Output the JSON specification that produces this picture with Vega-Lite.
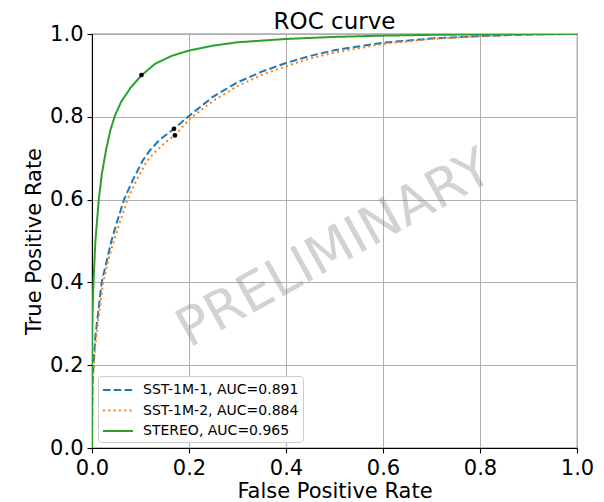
{
  "$schema": "https://vega.github.io/schema/vega-lite/v6.json",
  "width": 485,
  "height": 414,
  "autosize": {"type": "none"},
  "padding": {"left": 92, "top": 34, "right": 27, "bottom": 54},
  "title": {"text": "ROC curve", "fontSize": 23, "font": "DejaVu Sans", "fontWeight": "normal", "color": "black", "offset": -11, "anchor": "middle"},
  "config": {
    "view": {"stroke": "black", "strokeWidth": 1.1},
    "font": "DejaVu Sans",
    "axis": {
      "labelFontSize": 21, "titleFontSize": 21, "titleFontWeight": "normal",
      "labelColor": "black", "titleColor": "black", "domainColor": "black", "domainWidth": 1.1,
      "tickColor": "black", "tickSize": 5, "tickWidth": 1.1, "labelPadding": 4, "labelFlush": false,
      "gridColor": "#b0b0b0", "gridWidth": 1, "labelFont": "DejaVu Sans", "titleFont": "DejaVu Sans"
    },
    "legend": {
      "orient": "bottom-left", "offset": 6, "fillColor": "white", "strokeColor": "#cccccc",
      "cornerRadius": 3, "padding": 4, "labelFontSize": 14, "labelFont": "DejaVu Sans", "labelColor": "black",
      "symbolType": "M-1,0H2.333", "symbolSize": 324, "symbolStrokeWidth": 2, "labelOffset": 21, "rowPadding": 3.5
    }
  },
  "layer": [
    {
      "data": {"values": [
        {"s": "SST-1M-1, AUC=0.891", "x": 0, "y": 0},
        {"s": "SST-1M-1, AUC=0.891", "x": 0.0005, "y": 0.1},
        {"s": "SST-1M-1, AUC=0.891", "x": 0.001, "y": 0.15},
        {"s": "SST-1M-1, AUC=0.891", "x": 0.003, "y": 0.2},
        {"s": "SST-1M-1, AUC=0.891", "x": 0.007, "y": 0.27},
        {"s": "SST-1M-1, AUC=0.891", "x": 0.012, "y": 0.32},
        {"s": "SST-1M-1, AUC=0.891", "x": 0.02, "y": 0.4},
        {"s": "SST-1M-1, AUC=0.891", "x": 0.03, "y": 0.45},
        {"s": "SST-1M-1, AUC=0.891", "x": 0.04, "y": 0.5},
        {"s": "SST-1M-1, AUC=0.891", "x": 0.05, "y": 0.54},
        {"s": "SST-1M-1, AUC=0.891", "x": 0.066, "y": 0.6},
        {"s": "SST-1M-1, AUC=0.891", "x": 0.084, "y": 0.647},
        {"s": "SST-1M-1, AUC=0.891", "x": 0.105, "y": 0.695},
        {"s": "SST-1M-1, AUC=0.891", "x": 0.12, "y": 0.72},
        {"s": "SST-1M-1, AUC=0.891", "x": 0.14, "y": 0.745},
        {"s": "SST-1M-1, AUC=0.891", "x": 0.17, "y": 0.772},
        {"s": "SST-1M-1, AUC=0.891", "x": 0.2, "y": 0.802},
        {"s": "SST-1M-1, AUC=0.891", "x": 0.25, "y": 0.849},
        {"s": "SST-1M-1, AUC=0.891", "x": 0.3, "y": 0.883},
        {"s": "SST-1M-1, AUC=0.891", "x": 0.35, "y": 0.909},
        {"s": "SST-1M-1, AUC=0.891", "x": 0.4, "y": 0.93},
        {"s": "SST-1M-1, AUC=0.891", "x": 0.45, "y": 0.947},
        {"s": "SST-1M-1, AUC=0.891", "x": 0.5, "y": 0.961},
        {"s": "SST-1M-1, AUC=0.891", "x": 0.6, "y": 0.979},
        {"s": "SST-1M-1, AUC=0.891", "x": 0.7, "y": 0.989},
        {"s": "SST-1M-1, AUC=0.891", "x": 0.8, "y": 0.995},
        {"s": "SST-1M-1, AUC=0.891", "x": 0.9, "y": 0.999},
        {"s": "SST-1M-1, AUC=0.891", "x": 1.0, "y": 1.0},
        {"s": "SST-1M-2, AUC=0.884", "x": 0, "y": 0},
        {"s": "SST-1M-2, AUC=0.884", "x": 0.0005, "y": 0.09},
        {"s": "SST-1M-2, AUC=0.884", "x": 0.001, "y": 0.13},
        {"s": "SST-1M-2, AUC=0.884", "x": 0.003, "y": 0.19},
        {"s": "SST-1M-2, AUC=0.884", "x": 0.007, "y": 0.25},
        {"s": "SST-1M-2, AUC=0.884", "x": 0.013, "y": 0.31},
        {"s": "SST-1M-2, AUC=0.884", "x": 0.023, "y": 0.4},
        {"s": "SST-1M-2, AUC=0.884", "x": 0.033, "y": 0.45},
        {"s": "SST-1M-2, AUC=0.884", "x": 0.045, "y": 0.5},
        {"s": "SST-1M-2, AUC=0.884", "x": 0.056, "y": 0.54},
        {"s": "SST-1M-2, AUC=0.884", "x": 0.073, "y": 0.6},
        {"s": "SST-1M-2, AUC=0.884", "x": 0.09, "y": 0.643},
        {"s": "SST-1M-2, AUC=0.884", "x": 0.113, "y": 0.693},
        {"s": "SST-1M-2, AUC=0.884", "x": 0.13, "y": 0.715},
        {"s": "SST-1M-2, AUC=0.884", "x": 0.15, "y": 0.737},
        {"s": "SST-1M-2, AUC=0.884", "x": 0.172, "y": 0.757},
        {"s": "SST-1M-2, AUC=0.884", "x": 0.2, "y": 0.793},
        {"s": "SST-1M-2, AUC=0.884", "x": 0.25, "y": 0.839},
        {"s": "SST-1M-2, AUC=0.884", "x": 0.3, "y": 0.874},
        {"s": "SST-1M-2, AUC=0.884", "x": 0.35, "y": 0.901},
        {"s": "SST-1M-2, AUC=0.884", "x": 0.4, "y": 0.922},
        {"s": "SST-1M-2, AUC=0.884", "x": 0.45, "y": 0.941},
        {"s": "SST-1M-2, AUC=0.884", "x": 0.5, "y": 0.955},
        {"s": "SST-1M-2, AUC=0.884", "x": 0.6, "y": 0.976},
        {"s": "SST-1M-2, AUC=0.884", "x": 0.7, "y": 0.988},
        {"s": "SST-1M-2, AUC=0.884", "x": 0.8, "y": 0.995},
        {"s": "SST-1M-2, AUC=0.884", "x": 0.9, "y": 0.999},
        {"s": "SST-1M-2, AUC=0.884", "x": 1.0, "y": 1.0},
        {"s": "STEREO, AUC=0.965", "x": 0, "y": 0},
        {"s": "STEREO, AUC=0.965", "x": 0.0002, "y": 0.25},
        {"s": "STEREO, AUC=0.965", "x": 0.001, "y": 0.32},
        {"s": "STEREO, AUC=0.965", "x": 0.003, "y": 0.4},
        {"s": "STEREO, AUC=0.965", "x": 0.007, "y": 0.5},
        {"s": "STEREO, AUC=0.965", "x": 0.014, "y": 0.6},
        {"s": "STEREO, AUC=0.965", "x": 0.02, "y": 0.66},
        {"s": "STEREO, AUC=0.965", "x": 0.029, "y": 0.72},
        {"s": "STEREO, AUC=0.965", "x": 0.038, "y": 0.768},
        {"s": "STEREO, AUC=0.965", "x": 0.047, "y": 0.802},
        {"s": "STEREO, AUC=0.965", "x": 0.06, "y": 0.836},
        {"s": "STEREO, AUC=0.965", "x": 0.08, "y": 0.871},
        {"s": "STEREO, AUC=0.965", "x": 0.102, "y": 0.9},
        {"s": "STEREO, AUC=0.965", "x": 0.13, "y": 0.928},
        {"s": "STEREO, AUC=0.965", "x": 0.164, "y": 0.947},
        {"s": "STEREO, AUC=0.965", "x": 0.2, "y": 0.96},
        {"s": "STEREO, AUC=0.965", "x": 0.25, "y": 0.972},
        {"s": "STEREO, AUC=0.965", "x": 0.3, "y": 0.98},
        {"s": "STEREO, AUC=0.965", "x": 0.4, "y": 0.988},
        {"s": "STEREO, AUC=0.965", "x": 0.5, "y": 0.993},
        {"s": "STEREO, AUC=0.965", "x": 0.6, "y": 0.996},
        {"s": "STEREO, AUC=0.965", "x": 0.7, "y": 0.998},
        {"s": "STEREO, AUC=0.965", "x": 0.8, "y": 0.999},
        {"s": "STEREO, AUC=0.965", "x": 1.0, "y": 1.0}
      ]},
      "mark": {"type": "line", "strokeWidth": 2, "clip": true},
      "encoding": {
        "x": {"field": "x", "type": "quantitative", "scale": {"domain": [0, 1], "nice": false}, "axis": {"title": "False Positive Rate", "values": [0, 0.2, 0.4, 0.6, 0.8, 1.0], "format": ".1f", "titlePadding": 2}},
        "y": {"field": "y", "type": "quantitative", "scale": {"domain": [0, 1], "nice": false}, "axis": {"title": "True Positive Rate", "values": [0, 0.2, 0.4, 0.6, 0.8, 1.0], "format": ".1f", "titlePadding": 5}},
        "color": {"field": "s", "type": "nominal", "scale": {"domain": ["SST-1M-1, AUC=0.891", "SST-1M-2, AUC=0.884", "STEREO, AUC=0.965"], "range": ["#1f77b4", "#ff7f0e", "#2ca02c"]}, "legend": {"title": null}},
        "strokeDash": {"field": "s", "type": "nominal", "scale": {"domain": ["SST-1M-1, AUC=0.891", "SST-1M-2, AUC=0.884", "STEREO, AUC=0.965"], "range": [[7.5, 3.3], [2, 3.3], [1, 0]]}, "legend": {"title": null}}
      }
    },
    {
      "data": {"values": [
        {"x": 0.102, "y": 0.901},
        {"x": 0.169, "y": 0.771},
        {"x": 0.171, "y": 0.755}
      ]},
      "mark": {"type": "point", "filled": true, "color": "black", "size": 22, "opacity": 1},
      "encoding": {
        "x": {"field": "x", "type": "quantitative"},
        "y": {"field": "y", "type": "quantitative"}
      }
    },
    {
      "data": {"values": [{"x": 0.5, "y": 0.48, "t": "PRELIMINARY"}]},
      "mark": {"type": "text", "angle": 331, "fontSize": 53, "color": "#808080", "opacity": 0.35, "align": "center", "baseline": "middle", "font": "DejaVu Sans"},
      "encoding": {
        "x": {"field": "x", "type": "quantitative"},
        "y": {"field": "y", "type": "quantitative"},
        "text": {"field": "t"}
      }
    }
  ]
}
